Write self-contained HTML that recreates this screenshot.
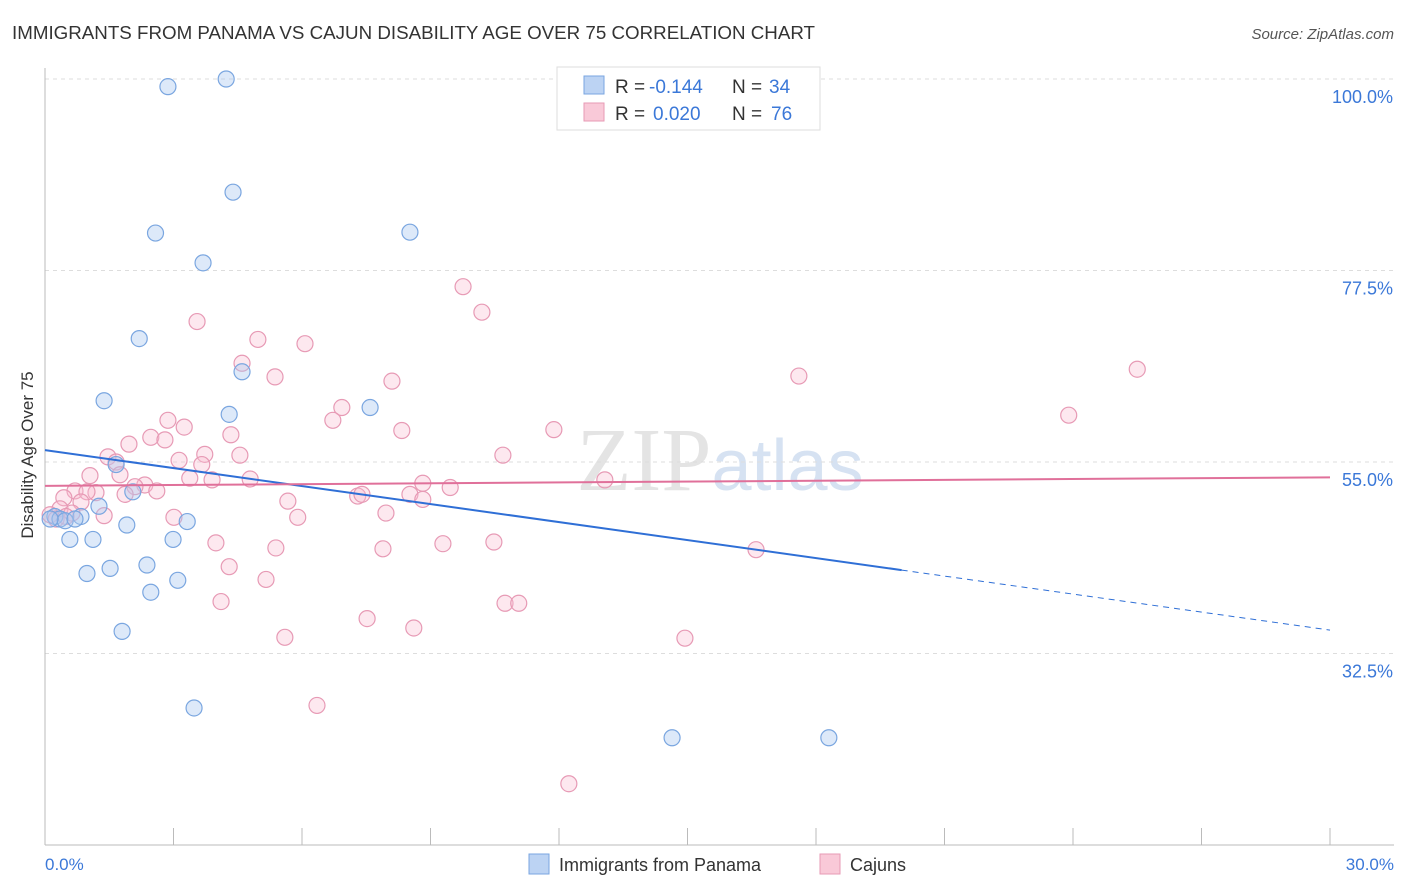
<!DOCTYPE html>
<html><head><meta charset="utf-8"><style>
body{margin:0;background:#fff;font-family:"Liberation Sans",sans-serif;}
svg{display:block}
</style></head><body>
<svg width="1406" height="892">
<text x="12" y="39" font-size="18" fill="#333" textLength="803" lengthAdjust="spacingAndGlyphs">IMMIGRANTS FROM PANAMA VS CAJUN DISABILITY AGE OVER 75 CORRELATION CHART</text>
<text x="1394" y="39" font-size="15" fill="#555" font-style="italic" text-anchor="end">Source: ZipAtlas.com</text>
<text x="720" y="490" font-size="90" fill="#e4e4e4" text-anchor="middle" font-family="Liberation Serif">ZIP<tspan fill="#d6e2f2" font-family="Liberation Sans" font-size="72">atlas</tspan></text>
<g id="grid"></g><g id="axes"></g><g id="pts"></g><g id="lines"></g>
<text transform="translate(33,455) rotate(-90)" font-size="17" fill="#333" text-anchor="middle">Disability Age Over 75</text>
<text x="45" y="870" font-size="17" fill="#3b78d8">0.0%</text>
<text x="1394" y="870" font-size="17" fill="#3b78d8" text-anchor="end">30.0%</text>
<g>
<rect x="557" y="67" width="263" height="63" fill="#fff" stroke="#ddd"/>
<rect x="584" y="76" width="20" height="18" fill="#bcd3f3" stroke="#7aa6e0"/>
<rect x="584" y="103" width="20" height="18" fill="#f9c9d8" stroke="#e79ab5"/>
<text x="615" y="93" font-size="19" fill="#333">R =</text>
<text x="649" y="93" font-size="19" fill="#3b78d8">-0.144</text>
<text x="732" y="93" font-size="19" fill="#333">N =</text>
<text x="769" y="93" font-size="19" fill="#3b78d8">34</text>
<text x="615" y="120" font-size="19" fill="#333">R =</text>
<text x="653" y="120" font-size="19" fill="#3b78d8">0.020</text>
<text x="732" y="120" font-size="19" fill="#333">N =</text>
<text x="771" y="120" font-size="19" fill="#3b78d8">76</text>
</g>
<g>
<rect x="529" y="854" width="20" height="20" fill="#bcd3f3" stroke="#7aa6e0"/>
<text x="559" y="871" font-size="18" fill="#333">Immigrants from Panama</text>
<rect x="820" y="854" width="20" height="20" fill="#f9c9d8" stroke="#e79ab5"/>
<text x="850" y="871" font-size="18" fill="#333">Cajuns</text>
</g>
</svg>
<script>
const yTicks=[100,77.5,55,32.5];
const xTicks=[0,3,6,9,12,15,18,21,24,27,30];
const blueX=[2.87,4.23,4.39,2.58,8.52,3.69,2.2,4.6,1.38,4.3,7.59,1.66,2.05,1.26,0.84,1.91,3.32,0.58,1.12,2.99,2.38,0.98,1.52,3.1,2.47,1.8,3.48,14.64,18.3,0.23,0.35,0.47,0.12,0.7];
const blueY=[99.1,100,86.7,81.9,82,78.4,69.5,65.6,62.2,60.6,61.4,54.7,51.5,49.8,48.6,47.6,48,45.9,45.9,45.9,42.9,41.9,42.5,41.1,39.7,35.1,26.1,22.6,22.6,48.6,48.3,48.1,48.3,48.3];
const pinkX=[9.76,10.2,3.55,4.97,6.07,4.6,5.37,8.1,17.6,25.5,23.9,6.93,6.72,2.87,3.25,4.34,8.33,11.88,1.96,2.47,2.8,1.47,3.73,3.13,4.55,10.69,1.66,1.05,1.75,3.66,3.38,3.9,4.79,2.33,2.1,2.61,0.7,0.44,1.19,0.98,1.87,0.84,0.35,0.63,1.38,5.67,7.3,7.4,8.52,8.82,8.82,9.46,13.07,7.96,5.9,3.01,3.99,5.39,7.89,9.29,10.48,16.6,4.3,5.16,4.11,10.74,11.06,7.52,8.61,5.6,14.94,6.35,12.23,0.12,0.26,0.49];
const pinkY=[75.6,72.6,71.5,69.4,68.9,66.6,65,64.5,65.1,65.9,60.5,61.4,59.9,59.9,59.1,58.2,58.7,58.8,57.1,57.9,57.6,55.6,55.9,55.2,55.8,55.8,55,53.4,53.5,54.7,53.1,52.9,53,52.3,52.1,51.6,51.6,50.8,51.4,51.5,51.2,50.3,49.5,49,48.7,50.4,51,51.2,51.2,50.6,52.5,52,52.9,49,48.5,48.5,45.5,44.9,44.8,45.4,45.6,44.7,42.7,41.2,38.6,38.4,38.4,36.6,35.5,34.4,34.3,26.4,17.2,48.8,48.3,48.6];
const blueFit=[56.4,42.3]; // values at x=0 and x=20
const pinkFit=[52.2,53.2]; // values at x=0 and x=30
const NS="http://www.w3.org/2000/svg";
const X=v=>45+v/30*1285, Y=v=>462-(v-55)*191.5/22.5;
function mk(t,a,p){const e=document.createElementNS(NS,t);for(const k in a)e.setAttribute(k,a[k]);p.appendChild(e);return e;}
const grid=document.getElementById('grid'),axes=document.getElementById('axes'),pts=document.getElementById('pts'),lines=document.getElementById('lines');
yTicks.forEach(v=>{
 const l=mk('line',{x1:45,x2:1394,y1:Y(v),y2:Y(v),stroke:'#ddd','stroke-dasharray':'4,4'},grid);
 
 
 const t=mk('text',{x:1393,y:Y(v)+24,'font-size':18,fill:'#3b78d8','text-anchor':'end'},grid);
 t.textContent=v.toFixed(1)+'%';
 
 
});
const ax=mk('line',{x1:45,x2:1394,y1:845,y2:845,stroke:'#bbb'},axes);


const ay=mk('line',{x1:45,x2:45,y1:68,y2:845,stroke:'#bbb'},axes);


xTicks.forEach(v=>{
 const t=mk('line',{x1:X(v),x2:X(v),y1:828,y2:845,stroke:'#bbb'},axes);
 
 
});
function dots(xs,ys,fill,stroke,name){xs.forEach((x,i)=>{
 const c=mk('circle',{cx:X(x),cy:Y(ys[i]),r:8,fill:fill,stroke:stroke,'stroke-width':1.2},pts);
 
 
});}
dots(pinkX,pinkY,'rgba(249,190,210,0.35)','#e79ab5','cajun-point');
dots(blueX,blueY,'rgba(170,200,240,0.4)','#7aa6e0','panama-point');
const slope=(blueFit[1]-blueFit[0])/20;
const b1=mk('line',{x1:X(0),y1:Y(blueFit[0]),x2:X(20),y2:Y(blueFit[1]),stroke:'#2f6fd6','stroke-width':2},lines);


const b2=mk('line',{x1:X(20),y1:Y(blueFit[1]),x2:X(30),y2:Y(blueFit[0]+slope*30),stroke:'#2f6fd6','stroke-width':1,'stroke-dasharray':'6,5'},lines);


const p1=mk('line',{x1:X(0),y1:Y(pinkFit[0]),x2:X(30),y2:Y(pinkFit[1]),stroke:'#e0709a','stroke-width':2},lines);


</script>
</body></html>
